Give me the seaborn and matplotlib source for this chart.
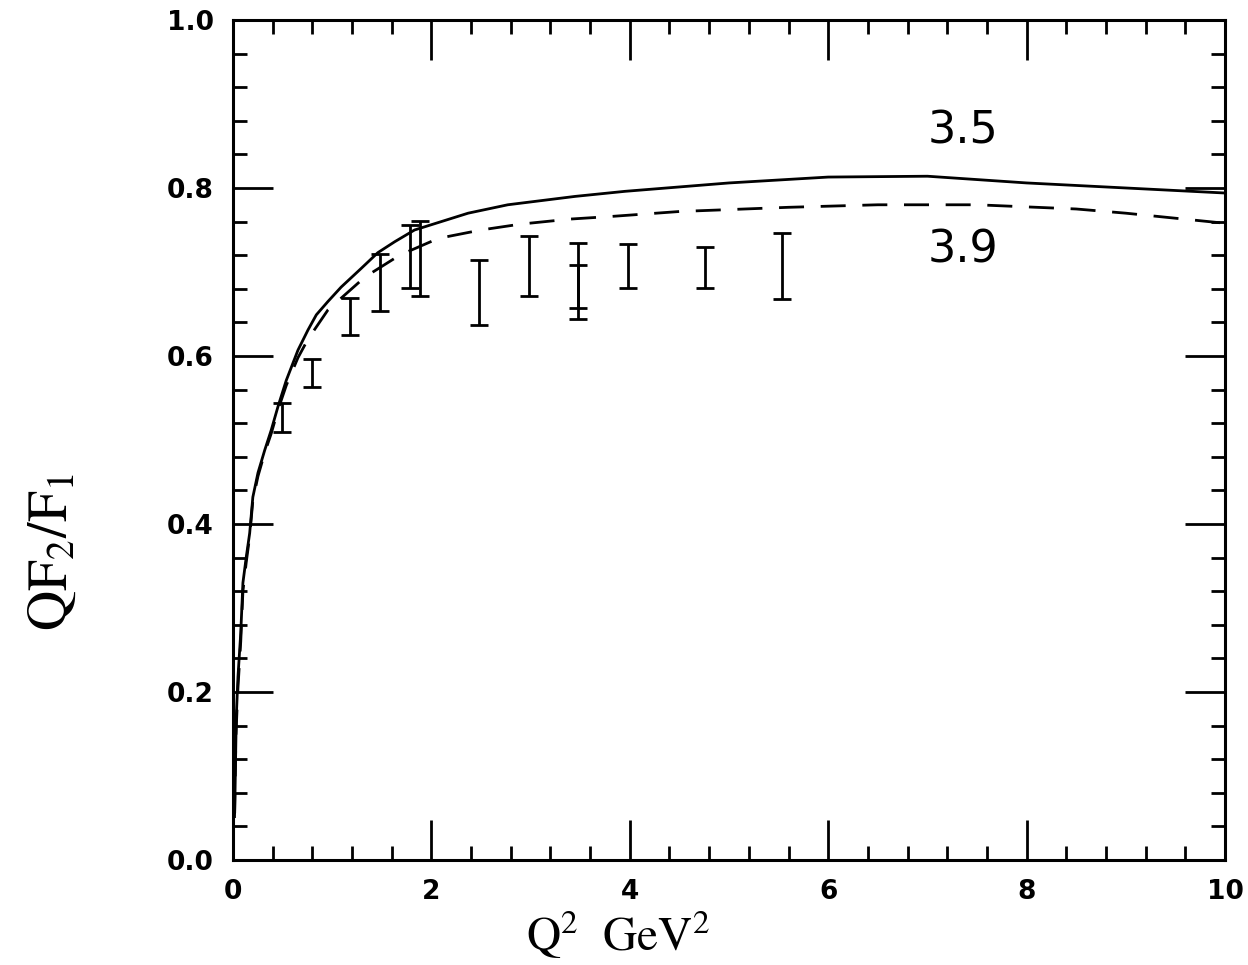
import pandas as pd
import seaborn as sns
import numpy as np
import matplotlib
matplotlib.use('Agg')
import matplotlib.pyplot as plt
from matplotlib.ticker import MultipleLocator, FormatStrFormatter

# model curves
q2_solid = [0.017, 0.033, 0.05, 0.078, 0.10, 0.134, 0.168, 0.20, 0.252, 0.32, 0.386, 0.454, 0.537,
            0.655, 0.756, 0.84, 0.958, 1.09, 1.29, 1.46, 1.63, 1.83, 2.10, 2.37, 2.77, 3.45,
            3.95, 5.0, 6.0, 7.0, 8.0, 9.0, 10.0]
ratio_solid = [0.056, 0.17, 0.218, 0.27, 0.33, 0.361, 0.389, 0.432, 0.461, 0.488, 0.512, 0.540, 0.571,
               0.607, 0.631, 0.649, 0.665, 0.682, 0.704, 0.723, 0.736, 0.75, 0.760, 0.770, 0.780, 0.790,
               0.796, 0.806, 0.813, 0.814, 0.806, 0.800, 0.794]

q2_dashed = [0.015, 0.03, 0.05, 0.078, 0.10, 0.134, 0.168, 0.20, 0.252, 0.32, 0.386, 0.454, 0.537,
             0.655, 0.756, 0.958, 1.33, 1.68, 2.07, 2.5, 2.9, 3.4, 3.8, 4.5, 5.6, 6.5, 7.5,
             8.5, 9.0, 10.0]
ratio_dashed = [0.05, 0.15, 0.205, 0.26, 0.32, 0.355, 0.385, 0.428, 0.457, 0.485, 0.508, 0.536, 0.565,
                0.598, 0.62, 0.655, 0.694, 0.720, 0.740, 0.75, 0.757, 0.763, 0.766, 0.772, 0.777, 0.78,
                0.78, 0.775, 0.77, 0.758]

# data error bars: Q^2, lower and upper edge
q2_data = [0.49, 0.80, 1.18, 1.48, 1.78, 1.885, 2.48, 2.98, 3.48, 3.48, 3.98, 4.76, 5.53]
low_data = [0.510, 0.563, 0.625, 0.653, 0.681, 0.671, 0.637, 0.671, 0.644, 0.657, 0.681, 0.681, 0.668]
high_data = [0.544, 0.596, 0.669, 0.721, 0.756, 0.761, 0.714, 0.743, 0.734, 0.708, 0.733, 0.730, 0.746]

curve_labels = ['3.5', '3.9']

sns.set_style('white')
plt.rcParams['font.family'] = ['DejaVu Sans']
plt.rcParams['mathtext.fontset'] = 'stix'
plt.rcParams['text.color'] = 'black'
plt.rcParams['axes.labelcolor'] = 'black'
plt.rcParams['xtick.color'] = 'black'
plt.rcParams['ytick.color'] = 'black'

curves = pd.concat([
    pd.DataFrame({'q2': q2_solid, 'ratio': ratio_solid, 'model': curve_labels[0]}),
    pd.DataFrame({'q2': q2_dashed, 'ratio': ratio_dashed, 'model': curve_labels[1]}),
])

fig = plt.figure(figsize=(12.48, 9.65), dpi=100)
ax = fig.add_axes([0.1867, 0.1088, 0.7949, 0.8705])

sns.lineplot(data=curves, x='q2', y='ratio', style='model', sort=False,
             dashes={curve_labels[0]: '', curve_labels[1]: (9, 6)},
             color='black', linewidth=2, legend=False, ax=ax)

mid = (np.array(low_data) + np.array(high_data)) / 2
half = (np.array(high_data) - np.array(low_data)) / 2
ax.errorbar(q2_data, mid, yerr=half, fmt='none', ecolor='black',
            elinewidth=2, capsize=6.5, capthick=2)

ax.text(7.36, 0.868, curve_labels[0], fontsize=32, ha='center', va='center', color='black')
ax.text(7.36, 0.726, curve_labels[1], fontsize=32, ha='center', va='center', color='black')

ax.set_xlim(0, 10)
ax.set_ylim(0, 1)
ax.xaxis.set_major_locator(MultipleLocator(2))
ax.xaxis.set_minor_locator(MultipleLocator(0.4))
ax.yaxis.set_major_locator(MultipleLocator(0.2))
ax.yaxis.set_minor_locator(MultipleLocator(0.04))
ax.xaxis.set_major_formatter(FormatStrFormatter('%d'))
ax.yaxis.set_major_formatter(FormatStrFormatter('%.1f'))

ax.tick_params(which='both', direction='in', top=True, right=True, bottom=True, left=True,
               color='black', labelcolor='black', width=2)
ax.tick_params(which='major', length=29, pad=14, labelsize=19)
ax.tick_params(which='minor', length=10)
for lab in ax.get_xticklabels() + ax.get_yticklabels():
    lab.set_fontweight('bold')
for sp in ax.spines.values():
    sp.set_linewidth(2.2)
    sp.set_color('black')

ax.set_xlabel(r'$\mathrm{Q^2\ \ GeV^2}$', fontsize=34)
ax.set_ylabel(r'$\mathrm{QF_2/F_1}$', fontsize=40)
ax.xaxis.set_label_coords(0.388, -0.058)
ax.yaxis.set_label_coords(-0.155, 0.367)

fig.savefig('out.png', dpi=100)
